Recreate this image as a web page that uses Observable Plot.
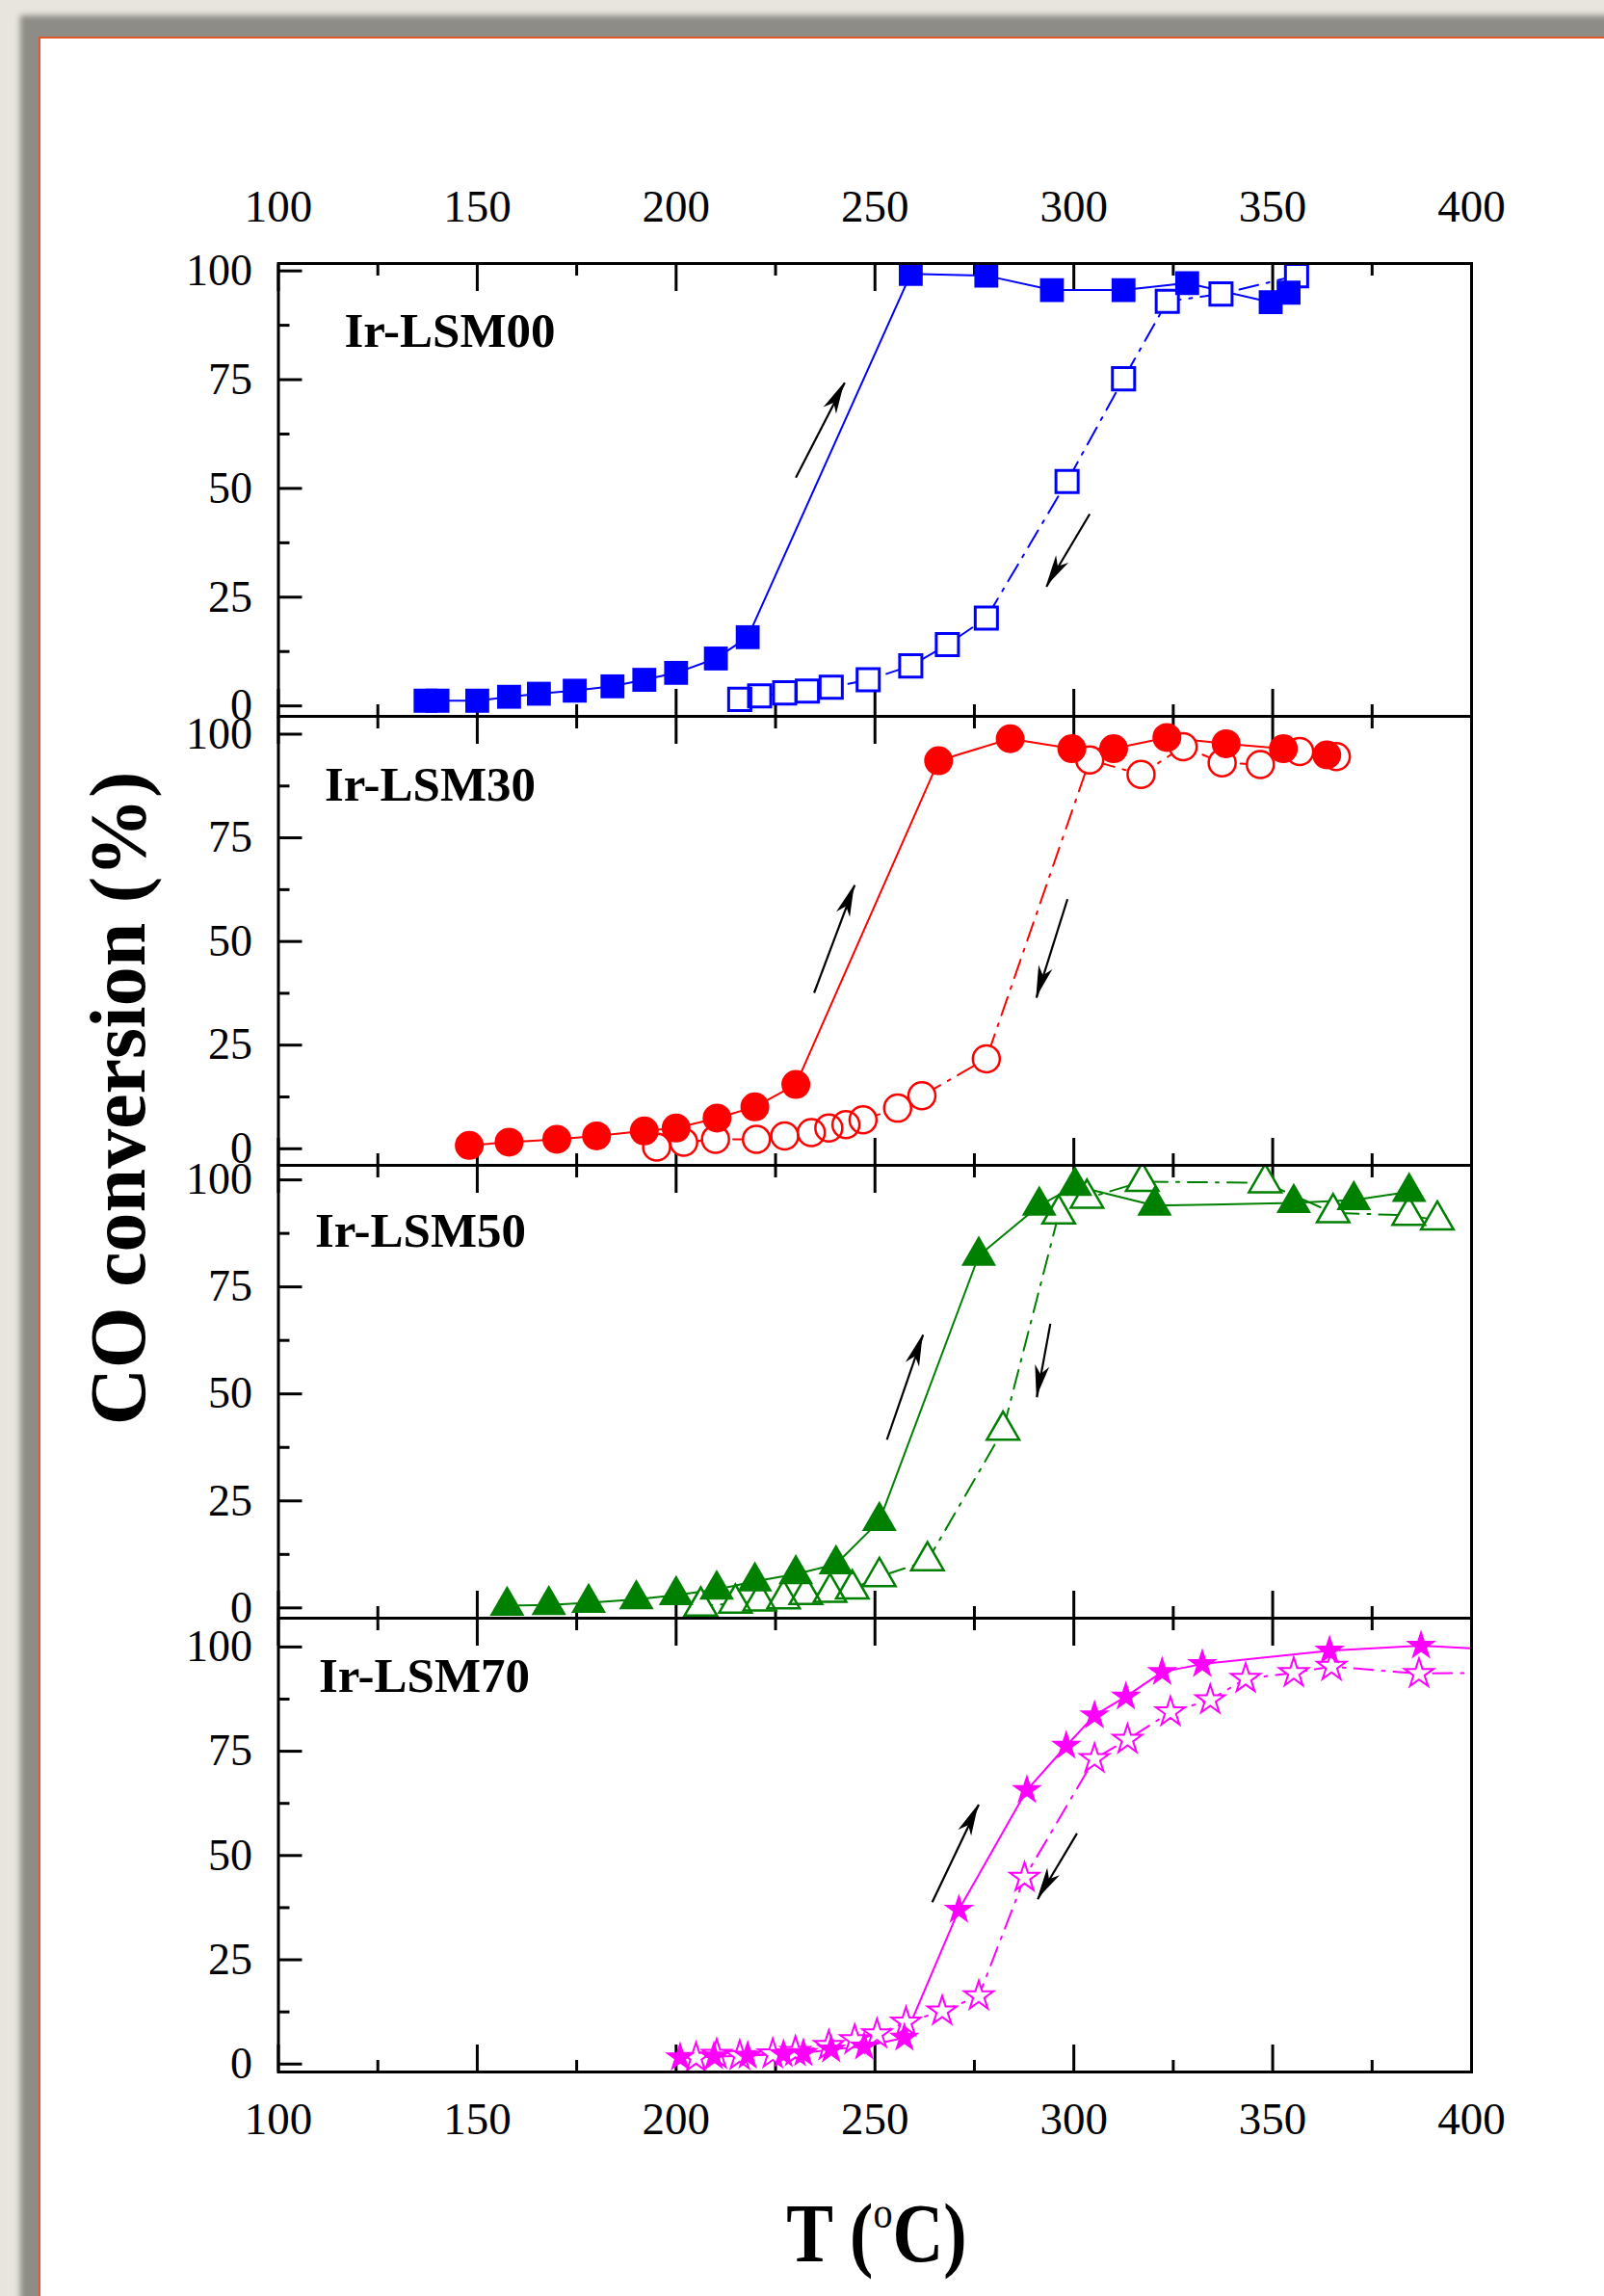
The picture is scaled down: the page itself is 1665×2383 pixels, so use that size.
<!DOCTYPE html>
<html>
<head>
<meta charset="utf-8">
<script src="https://cdn.jsdelivr.net/npm/d3@7"></script>
<script src="https://cdn.jsdelivr.net/npm/@observablehq/plot@0.6"></script>
<style>
  html, body { margin: 0; padding: 0; }
  body { width: 1665px; height: 2383px; overflow: hidden; position: relative; background: #e8e4de; font-family: "Liberation Serif", "Times New Roman", serif; }
  #sheet { position: absolute; left: 40px; top: 38px; width: 1700px; height: 2400px; background: #ffffff;
           border-top: 2px solid #e2582b; border-left: 2px solid #e2582b;
           box-shadow: 0 -3px 6px 19px #8d8c86; }
  #charts { position: absolute; left: 0; top: 0; width: 1665px; height: 2383px; }
  #ytitle { position: absolute; left: 123px; top: 1140px; transform: translate(-50%, -50%) rotate(-90deg);
            font-weight: bold; font-size: 82px; line-height: 1; white-space: nowrap; color: #000; }
  #xtitle { position: absolute; left: 910px; top: 2318px; transform: translate(-50%, -50%) scaleX(0.85);
            font-weight: bold; font-size: 86px; line-height: 1; white-space: nowrap; color: #000; }
  #xtitle .sup { font-size: 0.55em; font-weight: normal; position: relative; top: -0.75em; }
</style>
</head>
<body>
<div id="sheet"></div>
<div id="charts"></div>
<div id="ytitle">CO conversion (%)</div>
<div id="xtitle">T (<span class="sup">o</span>C)</div>
<script>
// ---------- tick values ----------
const xTicks = [100, 150, 200, 250, 300, 350, 400];
const xMinorTicks = [125, 175, 225, 275, 325, 375];
const yTicks = [0, 25, 50, 75, 100];
const yMinorTicks = [12.5, 37.5, 62.5, 87.5];

// ---------- samples ----------
const sampleNames = ["Ir-LSM00", "Ir-LSM30", "Ir-LSM50", "Ir-LSM70"];
const sampleColors = ["#0000ff", "#ff0000", "#008000", "#ff00ff"];
const sampleSymbols = ["square", "circle", "triangle", "star"];
const yDomains = [[-2.4, 101.7], [-4, 104.3], [-2.4, 103.4], [-1.9, 106.9]];

// Ir-LSM00 : light-off (filled) and cool-down (open)
const lsm00HeatT = [137, 140, 150, 158, 165.5, 174.5, 184, 192, 200, 210, 218, 259, 278, 294.5, 312.5, 328.5, 349.5, 354];
const lsm00HeatX = [1.2, 1.2, 1.2, 2.1, 2.8, 3.5, 4.5, 6.0, 7.6, 10.9, 15.8, 99.3, 98.9, 95.6, 95.6, 97.2, 92.8, 95.0];
const lsm00CoolT = [356, 337, 323.5, 312.5, 298.3, 278, 268.2, 259, 248.3, 239, 233, 227.3, 221, 216];
const lsm00CoolX = [98.9, 94.7, 93.0, 75.2, 51.6, 20.2, 14.1, 9.2, 6.0, 4.3, 3.4, 3.0, 2.3, 1.5];

// Ir-LSM30
const lsm30HeatT = [148, 158, 170, 180, 192, 200, 210.3, 219.8, 230.1, 266, 284, 299.5, 310, 323.4, 338.3, 352.7, 363.6];
const lsm30HeatX = [0.8, 1.6, 2.3, 3.1, 4.3, 5.0, 7.4, 10.1, 15.5, 93.6, 98.9, 96.5, 96.5, 99.2, 97.7, 96.5, 95.0];
const lsm30CoolT = [366, 356.8, 346.9, 337.3, 327.5, 316.9, 304, 278, 261.8, 255.7, 247, 242.7, 238.4, 234, 227.3, 220.2, 209.9, 201.9, 195.1];
const lsm30CoolX = [94.6, 95.8, 92.7, 93.1, 97.0, 90.3, 93.8, 21.7, 12.8, 9.8, 7.0, 5.8, 5.0, 3.9, 3.1, 2.3, 2.3, 1.6, 0.4];

// Ir-LSM50
const lsm50HeatT = [157.5, 168, 178, 190, 200, 210.2, 219.8, 230.1, 240.2, 251.1, 276.1, 291.3, 300.3, 320.3, 355.3, 370.4, 384.3];
const lsm50HeatX = [0.5, 0.7, 1.2, 2.0, 3.0, 4.3, 6.2, 7.9, 10.2, 20.3, 82.3, 94.0, 98.6, 94.0, 94.6, 95.3, 97.2];
const lsm50CoolT = [391.4, 384.2, 365.2, 348.1, 317.2, 303.3, 296.2, 282.2, 263.2, 251.1, 244.3, 238.7, 232.6, 227, 221, 214.9, 206.2];
const lsm50CoolX = [90.6, 91.7, 92.3, 99.3, 99.6, 95.7, 92.0, 41.5, 11.0, 7.3, 4.4, 3.6, 3.1, 2.1, 1.6, 1.1, 0.4];

// Ir-LSM70
const lsm70HeatT = [201, 209.5, 218, 227, 232, 239, 247.3, 257.4, 271.1, 288.2, 298.1, 305.2, 313.1, 322.2, 332.3, 364.3, 387.3, 410];
const lsm70HeatX = [1.6, 1.8, 2.0, 2.4, 2.6, 3.5, 4.2, 6.3, 37.0, 65.7, 76.3, 83.6, 88.1, 94.0, 95.9, 99.1, 100.3, 99.2];
const lsm70CoolT = [415, 386.8, 364.8, 355.3, 343.2, 334.3, 324.3, 313.5, 305.2, 287.6, 276.1, 266.9, 257.8, 250.5, 244.9, 238.4, 230, 224.3, 216, 210.2, 205];
const lsm70CoolX = [94.0, 93.6, 95.3, 93.8, 92.4, 87.3, 84.4, 77.8, 73.2, 44.7, 16.3, 12.7, 10.0, 7.2, 5.8, 4.4, 3.0, 2.4, 2.0, 2.3, 1.5];

// direction arrows (T, conversion)
const arrows00 = [{x1: 230.1, y1: 52.5, x2: 242.4, y2: 74.3}, {x1: 304, y1: 44.1, x2: 293.1, y2: 27.4}];
const arrows30 = [{x1: 234.7, y1: 37.6, x2: 244.9, y2: 63.6}, {x1: 298.4, y1: 60.2, x2: 290.6, y2: 36.4}];
const arrows50 = [{x1: 253, y1: 39.3, x2: 262.1, y2: 63.8}, {x1: 294.1, y1: 66.4, x2: 290.7, y2: 49.2}];
const arrows70 = [{x1: 264.4, y1: 38.8, x2: 276.1, y2: 62.2}, {x1: 300.8, y1: 55.3, x2: 290.9, y2: 39.5}];

const heatT = [lsm00HeatT, lsm30HeatT, lsm50HeatT, lsm70HeatT];
const heatX = [lsm00HeatX, lsm30HeatX, lsm50HeatX, lsm70HeatX];
const coolT = [lsm00CoolT, lsm30CoolT, lsm50CoolT, lsm70CoolT];
const coolX = [lsm00CoolX, lsm30CoolX, lsm50CoolX, lsm70CoolX];
const arrowSets = [arrows00, arrows30, arrows50, arrows70];

// ---------- layout ----------
const pageW = 1665, plotLeft = 288.5, plotRight = 1527;
const panelTop = [273, 743, 1209, 1679];
const panelH = [470, 466, 470, 471];
const labelDx = [68.5, 48, 38, 42];
const labelDy = [70, 71, 68, 60];
const markerR = {square: [14, 13, 3], circle: [15, 14, 2.5], triangle: [13.4, 12.5, 2.5], star: [10, 9.5, 2]};

// filled, notched arrowheads placed at the arrow tips through the plot's scales
function arrowHeads(arrows) {
  return (index, scales) => {
    const g = d3.create("svg:g").attr("fill", "black");
    for (const a of arrows) {
      const x1 = scales.x(a.x1), y1 = scales.y(a.y1), x2 = scales.x(a.x2), y2 = scales.y(a.y2);
      const ang = Math.atan2(y2 - y1, x2 - x1);
      const ux = Math.cos(ang), uy = Math.sin(ang), px = -uy, py = ux;
      const L = 33, W = 7.5, N = 24;
      const pts = [
        [x2, y2],
        [x2 - L * ux + W * px, y2 - L * uy + W * py],
        [x2 - N * ux, y2 - N * uy],
        [x2 - L * ux - W * px, y2 - L * uy - W * py]
      ];
      g.append("path").attr("d", "M" + pts.map(p => p.join(",")).join("L") + "Z");
    }
    return g.node();
  };
}

const container = document.getElementById("charts");

for (let i = 0; i < 4; i++) {
  const heat = heatT[i].map((T, j) => ({T, X: heatX[i][j]}));
  const cool = coolT[i].map((T, j) => ({T, X: coolX[i][j]}));
  const color = sampleColors[i], sym = sampleSymbols[i];
  const [rOn, rOff, swOff] = markerR[sym];
  const mt = i === 0 ? 110 : 10;
  const mb = i === 3 ? 110 : 10;
  const tickStyle = {strokeWidth: 3, fill: "none", label: null};
  const marks = [
    Plot.axisX(xTicks, {anchor: "top", tickSize: -28, ...tickStyle}),
    Plot.axisX(xMinorTicks, {anchor: "top", tickSize: -12, ...tickStyle}),
    Plot.axisX(xTicks, {anchor: "bottom", tickSize: -28, ...tickStyle}),
    Plot.axisX(xMinorTicks, {anchor: "bottom", tickSize: -12, ...tickStyle}),
    Plot.axisY(yTicks, {anchor: "left", tickSize: -25, ...tickStyle}),
    Plot.axisY(yMinorTicks, {anchor: "left", tickSize: -12, ...tickStyle}),
    Plot.axisY(yTicks, {anchor: "left", tickSize: 0, tickPadding: 27, fontSize: 46, label: null}),
    i === 0 ? Plot.axisX(xTicks, {anchor: "top", tickSize: 0, tickPadding: 44, fontSize: 47, label: null}) : null,
    i === 3 ? Plot.axisX(xTicks, {anchor: "bottom", tickSize: 0, tickPadding: 31, fontSize: 47, label: null}) : null,
    Plot.line(heat, {x: "T", y: "X", stroke: color, strokeWidth: 2, clip: true}),
    Plot.line(cool, {x: "T", y: "X", stroke: color, strokeWidth: 2, strokeDasharray: "20,9,3,9", clip: true}),
    Plot.dot(cool, {x: "T", y: "X", symbol: sym, r: rOff, fill: "white", stroke: "none", clip: true}),
    Plot.dot(heat, {x: "T", y: "X", symbol: sym, r: rOn, fill: color, stroke: "none", clip: true}),
    Plot.dot(cool, {x: "T", y: "X", symbol: sym, r: rOff, fill: "none", stroke: color, strokeWidth: swOff, clip: true}),
    Plot.link(arrowSets[i], {x1: "x1", y1: "y1", x2: "x2", y2: "y2", stroke: "black", strokeWidth: 2.2}),
    arrowHeads(arrowSets[i]),
    Plot.text([sampleNames[i]], {frameAnchor: "top-left", lineAnchor: "middle", textAnchor: "start",
      dx: labelDx[i], dy: labelDy[i], fontSize: 51, fontWeight: "bold", fill: "black"}),
    Plot.frame({strokeWidth: 3, stroke: "black"})
  ].filter(Boolean);

  const chart = Plot.plot({
    width: pageW,
    height: mt + panelH[i] + mb,
    marginLeft: plotLeft,
    marginRight: pageW - plotRight,
    marginTop: mt,
    marginBottom: mb,
    x: {domain: [100, 400], axis: null},
    y: {domain: yDomains[i], axis: null},
    style: {background: "transparent", overflow: "visible", fontFamily: "'Liberation Serif', 'Times New Roman', serif",
            fontSize: "46px", color: "black", maxWidth: "none"},
    marks
  });
  chart.style.position = "absolute";
  chart.style.left = "0px";
  chart.style.top = (panelTop[i] - mt) + "px";
  container.appendChild(chart);
}
</script>
</body>
</html>
